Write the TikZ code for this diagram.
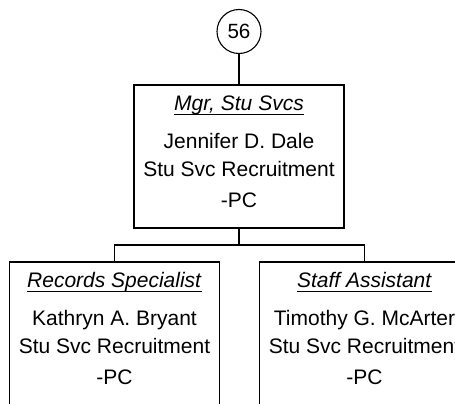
\documentclass[tikz,border=0pt]{standalone}
\usepackage{fontspec}
\setmainfont{Liberation Sans}
\usetikzlibrary{positioning}

\tikzset{
    posbox/.style={draw, line width=1.5pt, minimum width=210, minimum height=143,
        inner sep=0pt, align=center, font=\fontsize{21}{30.8}\selectfont},
    link/.style={line width=1.5pt}
}
\newsavebox{\titlebox}
\newcommand{\postitle}[1]{\sbox{\titlebox}{\textit{#1}}%
    \rlap{\rule[-4.8pt]{\wd\titlebox}{1.5pt}}\usebox{\titlebox}}
\newcommand{\boxfoot}{\rule[-10pt]{0pt}{10pt}}

\begin{document}
\begin{tikzpicture}[x=1pt, y=-1pt]
    % 1. Frame of the picture
    \useasboundingbox (0,0) rectangle (455,404);
    \clip (0,0) rectangle (455,404);

    % 2. Page reference and manager
    \node[draw, circle, line width=1.1pt, minimum size=44, inner sep=0pt,
        font=\fontsize{20.6}{24}\selectfont] (page) at (239,31.5) {56};
    \node[posbox] (mgr) at (239,156.5)
        {\postitle{Mgr, Stu Svcs}\\[7.2pt] Jennifer D. Dale\\[-2.5pt] Stu Svc Recruitment\\ -PC\boxfoot};

    % 3. Staff under the manager
    \node[posbox] (rec) at (114.5,333.5)
        {\postitle{Records Specialist}\\[7.2pt] Kathryn A. Bryant\\[-2.5pt] Stu Svc Recruitment\\ -PC\boxfoot};
    \node[posbox] (staff) at (364.5,333.5)
        {\postitle{Staff Assistant}\\[7.2pt] Timothy G. McArter\\[-2.5pt] Stu Svc Recruitment\\ -PC\boxfoot};

    % 4. Connectors
    \coordinate (split) at (239,245);
    \draw[link] (page) -- (mgr);
    \draw[link] (mgr.south) -- (split);
    \draw[link] (split) -| (rec.north);
    \draw[link] (split) -| (staff.north);
\end{tikzpicture}
\end{document}
